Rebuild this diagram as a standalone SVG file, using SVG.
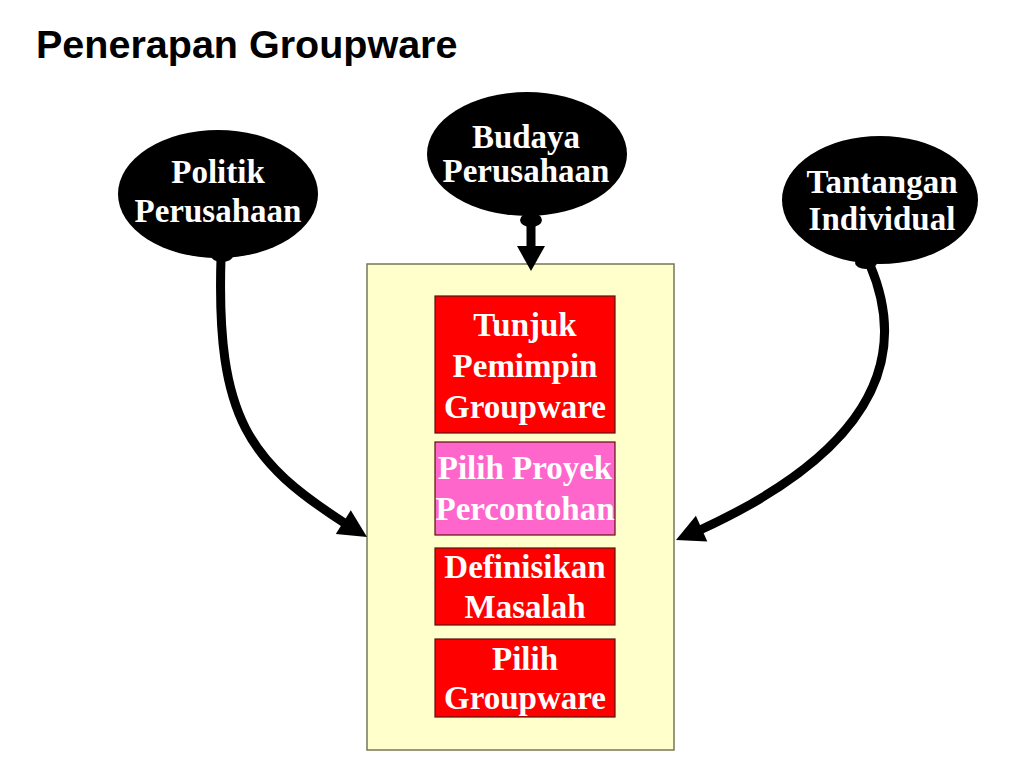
<svg xmlns="http://www.w3.org/2000/svg" width="1024" height="768" viewBox="0 0 1024 768">
  <style>
    .title { font-family: "Liberation Sans", Arial, sans-serif; font-weight: bold; font-size: 39.5px; fill: #000; }
    .lbl { font-family: "Liberation Serif", "Times New Roman", serif; font-weight: bold; font-size: 33px; fill: #fff; text-anchor: middle; }
    .bubble { fill: #000; }
    .step { stroke: #5a1010; stroke-width: 1.2; }
    .red { fill: #ff0000; }
    .pink { fill: #ff66cc; }
    .conn { fill: none; stroke: #000; stroke-width: 9; }
    .head { fill: #000; }
  </style>
  <rect width="1024" height="768" fill="#fff"/>
  <text class="title" x="36" y="58">Penerapan Groupware</text>

  <g id="container">
    <rect x="367" y="264" width="307" height="486" fill="#ffffcc" stroke="#77775a" stroke-width="1.5"/>
  </g>

  <g id="connectors">
    <path class="conn" d="M221,258 C 216,420 250,462 346,524"/>
    <polygon class="head" points="367,537 335.8,533.9 350.8,510.3"/>
    <path class="conn" d="M870,265 C 902,340 896,440 700,530"/>
    <polygon class="head" points="676,540 707.3,541.4 695.9,515.8"/>
    <path class="conn" d="M531,220 L531,250"/>
    <polygon class="head" points="531,271 517,246 545,246"/>
  </g>

  <g id="politik">
    <ellipse class="bubble" cx="218" cy="194" rx="100" ry="64"/>
    <ellipse class="bubble" cx="222" cy="256" rx="11" ry="6"/>
    <text class="lbl" x="218" y="183">Politik</text>
    <text class="lbl" x="218" y="222">Perusahaan</text>
  </g>

  <g id="budaya">
    <ellipse class="bubble" cx="527" cy="154" rx="100" ry="62"/>
    <ellipse class="bubble" cx="531" cy="220" rx="11" ry="7"/>
    <text class="lbl" x="526" y="148">Budaya</text>
    <text class="lbl" x="526" y="182">Perusahaan</text>
  </g>

  <g id="tantangan">
    <ellipse class="bubble" cx="880" cy="200" rx="98" ry="64"/>
    <ellipse class="bubble" cx="866" cy="263" rx="11" ry="6"/>
    <text class="lbl" x="882" y="193">Tantangan</text>
    <text class="lbl" x="882" y="230">Individual</text>
  </g>

  <g id="tunjuk">
    <rect class="step red" x="435" y="296" width="180" height="137"/>
    <text class="lbl" x="525" y="336">Tunjuk</text>
    <text class="lbl" x="525" y="377">Pemimpin</text>
    <text class="lbl" x="525" y="418">Groupware</text>
  </g>

  <g id="proyek">
    <rect class="step pink" x="435" y="442" width="180" height="93"/>
    <text class="lbl" x="525" y="479">Pilih Proyek</text>
    <text class="lbl" x="525" y="520">Percontohan</text>
  </g>

  <g id="definisikan">
    <rect class="step red" x="435" y="548" width="180" height="77"/>
    <text class="lbl" x="525" y="578">Definisikan</text>
    <text class="lbl" x="525" y="618">Masalah</text>
  </g>

  <g id="pilih">
    <rect class="step red" x="435" y="639" width="180" height="78"/>
    <text class="lbl" x="525" y="670">Pilih</text>
    <text class="lbl" x="525" y="709">Groupware</text>
  </g>
</svg>
